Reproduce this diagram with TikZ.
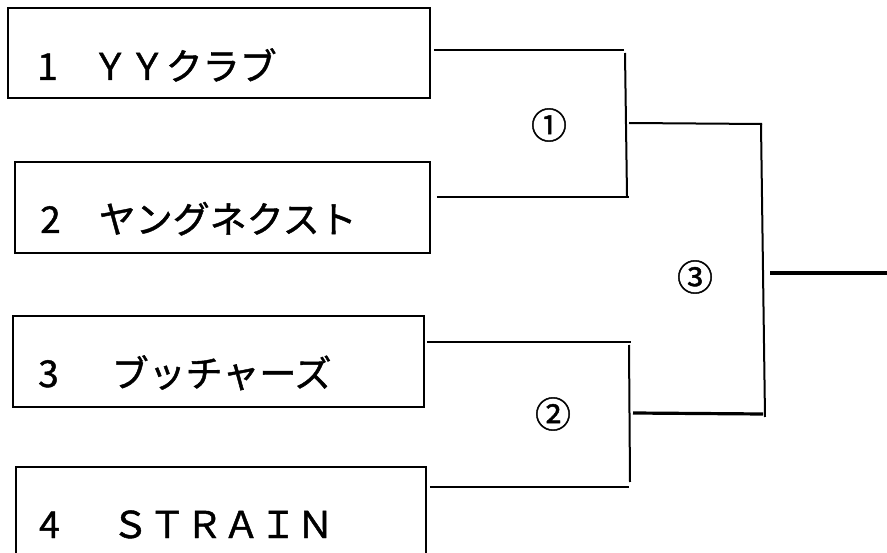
\documentclass[tikz,border=0pt]{standalone}
\usepackage{fontspec}
\newfontfamily\jpfont[FakeBold=1.2]{Noto Sans CJK JP}
\usetikzlibrary{calc}
\begin{document}
\begin{tikzpicture}[x=1pt,y=-1pt,
  teambox/.style={draw,line width=1.8pt,rectangle,inner sep=0pt,anchor=north west},
  teamname/.style={anchor=base west,inner sep=0pt,font=\jpfont\fontsize{37}{40}\selectfont},
  bline/.style={line width=2pt},
  thick line/.style={line width=3.2pt},
  matchno/.style={inner sep=0pt,font=\jpfont\fontsize{36}{38}\selectfont}]
\useasboundingbox (0,0) rectangle (887,553);
\clip (0,0) rectangle (887,553);
% team boxes
\node[teambox,minimum width=422pt,minimum height=90pt] (b1) at (7,7) {};
\node[teambox,minimum width=415pt,minimum height=91pt] (b2) at (14,161) {};
\node[teambox,minimum width=411pt,minimum height=91pt] (b3) at (12,315) {};
\node[teambox,minimum width=410pt,minimum height=140pt] (b4) at (15,466) {};
% team names
\node[teamname] (t1) at (37,80) {1\hspace{34pt}ＹＹクラブ};
\node[teamname] (t2) at (40,233) {2\hspace{38pt}ヤングネクスト};
\node[teamname] (t3) at (38,387) {3\hspace{53pt}ブッチャーズ};
\node[teamname] (t4) at (39,538) {4\hspace{52pt}ＳＴＲＡＩＮ};
% bracket corners
\coordinate (m1t) at (624,50);
\coordinate (m1b) at (629,197);
\coordinate (m2t) at (631,342);
\coordinate (m2b) at (629,487);
\coordinate (m3t) at (762,124);
\coordinate (m3b) at (763,414);
\coordinate (fin) at (887,273);
% round 1
\draw[bline] ($(b1.east|-m1t)+(3,0)$) -- (m1t);
\draw[bline] ($(b2.east|-m1b)+(6,0)$) -- (m1b);
\draw[bline] (625,53) -- (627,196);
\draw[bline] ($(b3.east|-m2t)+(2,0)$) -- (m2t);
\draw[bline] ($(b4.east|-m2b)+(3,0)$) -- (m2b);
\draw[bline] (629,345) -- (630,482);
% round 2
\draw[bline] (629,123) -- (m3t);
\draw[thick line] (633,413) -- (m3b);
\draw[bline] (761,124) -- (765,417);
% final
\draw[thick line] (770,273) -- (fin);
% match numbers
\node[matchno] (n1) at (549,125) {①};
\node[matchno] (n2) at (553,414) {②};
\node[matchno] (n3) at (695,277) {③};
\end{tikzpicture}
\end{document}
